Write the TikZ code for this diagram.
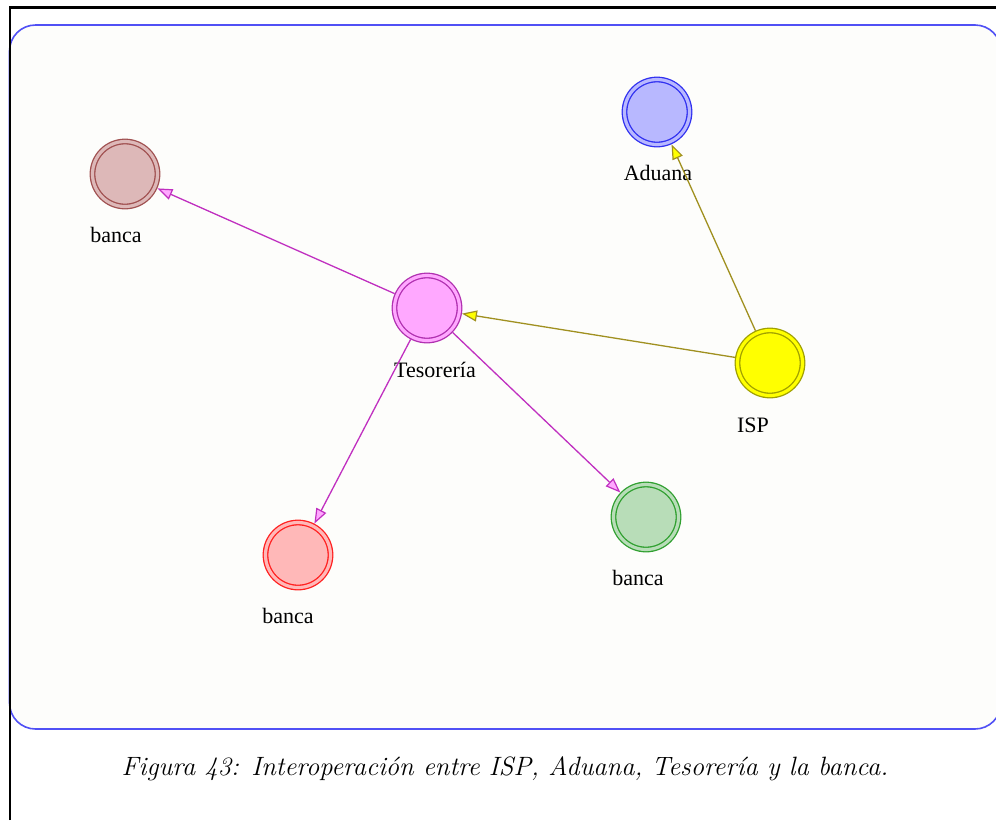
\documentclass[tikz,border=0pt]{standalone}
\usepackage{fontspec}
\newfontfamily\lblfont{Liberation Serif}
\usetikzlibrary{arrows.meta}
\definecolor{bgpaper}{HTML}{FDFDFB}
\definecolor{framblue}{HTML}{5050F5}
\definecolor{brfill}{HTML}{DDB8B8}\definecolor{brdraw}{HTML}{A05050}
\definecolor{adfill}{HTML}{B8B8FF}\definecolor{addraw}{HTML}{3030F0}
\definecolor{tefill}{HTML}{FFA8FF}\definecolor{tedraw}{HTML}{B030B0}
\definecolor{isfill}{HTML}{FFFF00}\definecolor{isdraw}{HTML}{A0A000}
\definecolor{rdfill}{HTML}{FFB8B8}\definecolor{rddraw}{HTML}{FF2020}
\definecolor{grfill}{HTML}{B8DDB8}\definecolor{grdraw}{HTML}{30A030}
\definecolor{magedge}{HTML}{C030C0}
\definecolor{oliveedge}{HTML}{A09020}
\tikzset{
  agent/.style n args={2}{circle, minimum size=65pt, inner sep=0pt, line width=1.3pt,
     draw=#2, double=#1, double distance=3.2pt, fill=#1, outer sep=2.9pt},
  lbl/.style={font=\lblfont\fontsize{22}{24}\selectfont, anchor=base, inner sep=0pt},
  tesarrow/.style={draw=magedge, line width=1.3pt, -{Triangle[length=15pt,width=11pt,fill=tefill,line width=1.2pt]}},
  isparrow/.style={draw=oliveedge, line width=1.3pt, -{Triangle[length=15pt,width=11pt,fill=isfill,line width=1.2pt]}},
}
\begin{document}
\begin{tikzpicture}[x=1pt,y=-1pt]
\useasboundingbox (0,0) rectangle (996,820);
\fill[white] (0,0) rectangle (996,820);
\draw[framblue, line width=1.6pt, fill=bgpaper, rounded corners=26pt] (9.5,25) rectangle (1001,729);
\draw[black, line width=2.2pt] (10,820) -- (10,7.5) -- (1000,7.5);

\node[agent={brfill}{brdraw}] (b1) at (125,174) {};
\node[agent={adfill}{addraw}] (ad) at (657,112) {};
\node[agent={tefill}{tedraw}] (te) at (427,308) {};
\node[agent={isfill}{isdraw}] (isp) at (770,363) {};
\node[agent={rdfill}{rddraw}] (b2) at (298,555) {};
\node[agent={grfill}{grdraw}] (b3) at (646,517) {};

\node[lbl] (lb1) at (116,242) {banca};
\node[lbl] (lad) at (658,180) {Aduana};
\node[lbl] (lte) at (435,377) {Tesorería};
\node[lbl] (lisp) at (753,432) {ISP};
\node[lbl] (lb2) at (288,623) {banca};
\node[lbl] (lb3) at (638,585) {banca};

\draw[tesarrow] (te) -- (b1);
\draw[tesarrow] (te) -- (b2);
\draw[tesarrow] (te) -- (b3);
\draw[isparrow] (isp) -- (te);
\draw[isparrow] (isp) -- (ad);

\node[font=\fontsize{26.5}{30}\selectfont\itshape, anchor=base] (cap) at (505,775) {Figura 43: Interoperación entre ISP, Aduana, Tesorería y la banca.};
\end{tikzpicture}
\end{document}
